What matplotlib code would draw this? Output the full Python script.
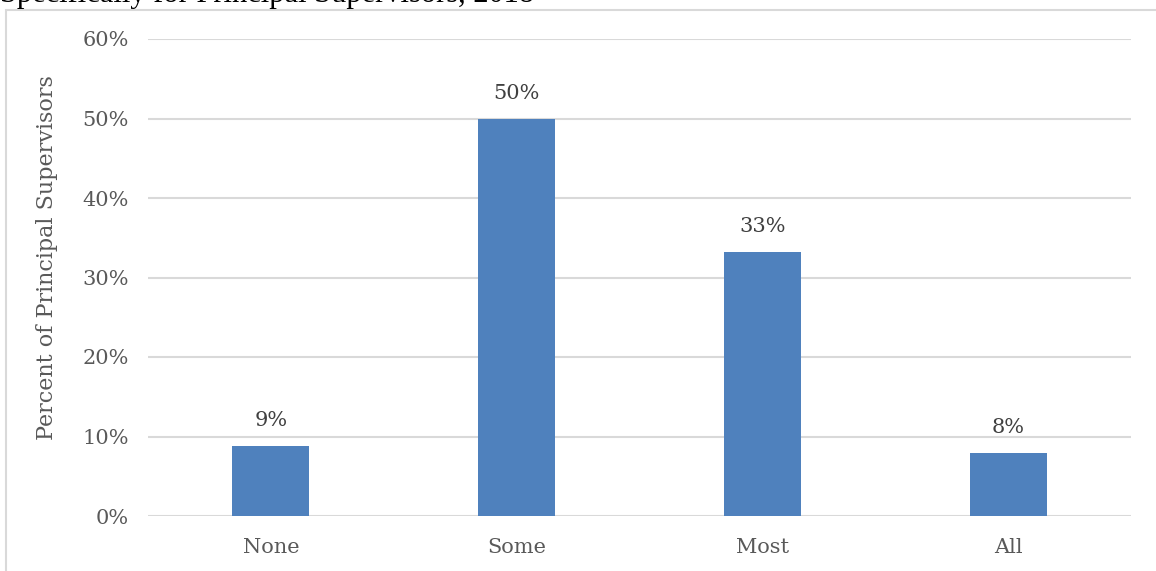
import matplotlib.pyplot as plt
from matplotlib.patches import Rectangle
from matplotlib.ticker import PercentFormatter

categories = ['None', 'Some', 'Most', 'All']
values = [8.8, 50.0, 33.2, 7.9]
labels = ['9%', '50%', '33%', '8%']
yticks = [0, 10, 20, 30, 40, 50, 60]

W, H = 1156, 571
fig = plt.figure(figsize=(W / 100, H / 100), dpi=100)
plt.rcParams['font.family'] = ['DejaVu Serif']

# outer chart frame (runs off right / bottom edges)
fig.patches.append(Rectangle((6 / W, -0.05), 1.1, 1 - 10 / H + 0.05,
                             transform=fig.transFigure, fill=False,
                             edgecolor='#d9d9d9', linewidth=1.5))

# title, clipped at the top of the image
fig.text(0 / W, 1 - 2 / H, 'Specifically for Principal Supervisors, 2018',
         family='Liberation Serif', fontsize=22, color='black',
         ha='left', va='baseline')

ax = fig.add_axes([148 / W, 1 - 516 / H, (1131 - 148) / W, (516 - 39) / H])
x = range(len(categories))
bars = ax.bar(x, values, width=0.313, color='#4f81bd', zorder=3)
for b, lab in zip(bars, labels):
    ax.text(b.get_x() + b.get_width() / 2, b.get_height() + 2.0, lab,
            ha='center', va='bottom', fontsize=15, color='#404040')

ax.set_xlim(-0.5, 3.5)
ax.set_ylim(0, 60)
ax.set_yticks(yticks)
ax.yaxis.set_major_formatter(PercentFormatter(decimals=0))
ax.set_xticks(list(x))
ax.set_xticklabels(categories)
ax.tick_params(length=0, labelsize=15, labelcolor='#595959')
ax.tick_params(axis='y', pad=14)
ax.tick_params(axis='x', pad=16)
ax.grid(axis='y', color='#d9d9d9', linewidth=1.5, zorder=0)
for s in ax.spines.values():
    s.set_visible(False)
ax.set_ylabel('Percent of Principal Supervisors', fontsize=16, color='#595959')
ax.yaxis.set_label_coords(-0.092, 0.541)

fig.savefig('out.png', dpi=100)
